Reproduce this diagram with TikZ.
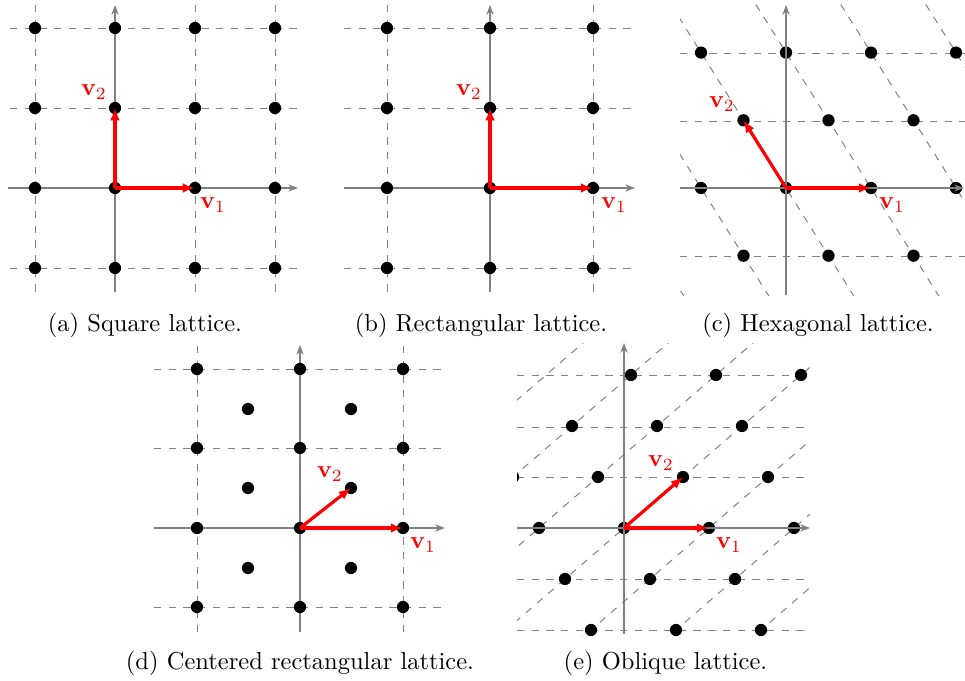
\documentclass[tikz,border=0pt]{standalone}
\usetikzlibrary{arrows.meta}
\begin{document}
\begin{tikzpicture}[x=0.408pt,y=-0.408pt,
  grid/.style={gray, dashed, line width=0.4pt},
  axis/.style={gray, line width=0.5pt, -{Stealth[length=4pt,width=3pt]}},
  vec/.style={red, line width=1.3pt, -{Latex[length=5pt,width=4pt]}},
  lp/.style={circle, fill=black, inner sep=0pt, minimum size=5pt},
  vlab/.style={text=red, inner sep=0pt},
  captext/.style={anchor=base, inner sep=0pt, font=\normalsize}]
\useasboundingbox (0,0) rectangle (965,681);

% ---------- (a) Square lattice ----------
\foreach \x in {35,195,275} \draw[grid] (\x,5) -- (\x,292);
\foreach \y in {28,108,268} \draw[grid] (10,\y) -- (297,\y);
\coordinate (axl) at (8,188); \coordinate (axr) at (298,188);
\coordinate (ayb) at (115,292); \coordinate (ayt) at (115,5);
\draw[axis] (axl) -- (axr);
\draw[axis] (ayb) -- (ayt);
\foreach \x in {35,115,195,275} \foreach \y in {28,108,188,268}
  \node[lp] (a-\x-\y) at (\x,\y) {};
\draw[vec] (a-115-188.center) -- (a-195-188.center);
\draw[vec] (a-115-188.center) -- (a-115-108.center);
\node[vlab] (av1) at (213,205) {$\mathbf{v}_1$};
\node[vlab] (av2) at (94,92) {$\mathbf{v}_2$};
\node[captext] (capa) at (145,332) {(a) Square lattice.};

% ---------- (b) Rectangular lattice ----------
\foreach \x in {387,593} \draw[grid] (\x,5) -- (\x,292);
\foreach \y in {28,108,268} \draw[grid] (344,\y) -- (635,\y);
\coordinate (bxl) at (344,188); \coordinate (bxr) at (635,188);
\coordinate (byb) at (490,292); \coordinate (byt) at (490,5);
\draw[axis] (bxl) -- (bxr);
\draw[axis] (byb) -- (byt);
\foreach \x in {387,490,593} \foreach \y in {28,108,188,268}
  \node[lp] (b-\x-\y) at (\x,\y) {};
\draw[vec] (b-490-188.center) -- (b-593-188.center);
\draw[vec] (b-490-188.center) -- (b-490-108.center);
\node[vlab] (bv1) at (614,205) {$\mathbf{v}_1$};
\node[vlab] (bv2) at (469,92) {$\mathbf{v}_2$};
\node[captext] (capb) at (481,332) {(b) Rectangular lattice.};

% ---------- (c) Hexagonal lattice ----------
\begin{scope}
\clip (680,5) rectangle (965,296);
\foreach \y in {53,121,256} \draw[grid] (680,\y) -- (965,\y);
\foreach \x in {616,701,786,871,956,1041}
  \draw[grid] (\x-170,188-270.8) -- (\x+170,188+270.8);
\foreach \j in {-1,0,1,2} \foreach \i in {-2,...,3}
  \node[lp] at (786+85*\i-42.5*\j,188-67.7*\j) {};
\end{scope}
\coordinate (cxl) at (680,188); \coordinate (cxr) at (964,188);
\coordinate (cyb) at (786,295); \coordinate (cyt) at (786,5);
\draw[axis] (cxl) -- (cxr);
\draw[axis] (cyb) -- (cyt);
\coordinate (cO) at (786,188);
\coordinate (c1) at (871,188);
\coordinate (c2) at (743.5,120.3);
\draw[vec] (cO) -- (c1);
\draw[vec] (cO) -- (c2);
\node[vlab] (cv1) at (892,205) {$\mathbf{v}_1$};
\node[vlab] (cv2) at (722,104) {$\mathbf{v}_2$};
\node[captext] (capc) at (818,332) {(c) Hexagonal lattice.};

% ---------- (d) Centered rectangular lattice ----------
\foreach \x in {197,403} \draw[grid] (\x,346) -- (\x,632);
\foreach \y in {369,448,607} \draw[grid] (154,\y) -- (445,\y);
\coordinate (dxl) at (154,528); \coordinate (dxr) at (445,528);
\coordinate (dyb) at (300,632); \coordinate (dyt) at (300,345);
\draw[axis] (dxl) -- (dxr);
\draw[axis] (dyb) -- (dyt);
\foreach \x in {197,300,403} \foreach \y in {369,448,528,607}
  \node[lp] (d-\x-\y) at (\x,\y) {};
\foreach \x in {248,351} \foreach \y in {409,488,568}
  \node[lp] (d-\x-\y) at (\x,\y) {};
\draw[vec] (d-300-528.center) -- (d-403-528.center);
\draw[vec] (d-300-528.center) -- (d-351-488.center);
\node[vlab] (dv1) at (423,545) {$\mathbf{v}_1$};
\node[vlab] (dv2) at (330,474) {$\mathbf{v}_2$};
\node[captext] (capd) at (300,669) {(d) Centered rectangular lattice.};

% ---------- (e) Oblique lattice ----------
\begin{scope}
\clip (517,343) rectangle (810,636);
\foreach \y in {375,427,477,579,630} \draw[grid] (517,\y) -- (810,\y);
\foreach \k in {-4,...,4}
  \draw[grid] (624+85*\k-354,528+306) -- (624+85*\k+354,528-306);
\foreach \i/\j in {-2/3,-1/3,0/3, -2/2,-1/2,0/2, -2/1,-1/1,0/1,1/1,
                   -1/0,0/0,1/0,2/0, 0/-1,1/-1,2/-1, 1/-2,2/-2,3/-2}
  \node[lp] at (624+85*\i+59*\j,528-51*\j) {};
\end{scope}
\coordinate (exl) at (517,528); \coordinate (exr) at (810,528);
\coordinate (eyb) at (624,634); \coordinate (eyt) at (624,343);
\draw[axis] (exl) -- (exr);
\draw[axis] (eyb) -- (eyt);
\coordinate (eO) at (624,528);
\coordinate (e1) at (709,528);
\coordinate (e2) at (683,477);
\draw[vec] (eO) -- (e1);
\draw[vec] (eO) -- (e2);
\node[vlab] (ev1) at (729,545) {$\mathbf{v}_1$};
\node[vlab] (ev2) at (661,463) {$\mathbf{v}_2$};
\node[captext] (cape) at (665.5,669) {(e) Oblique lattice.};
\end{tikzpicture}
\end{document}
